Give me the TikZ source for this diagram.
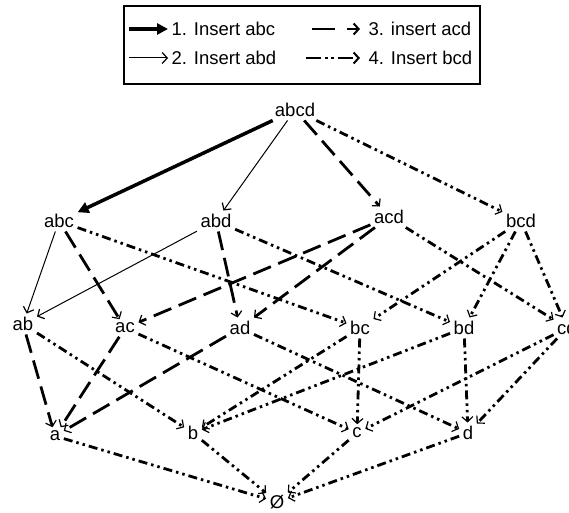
\documentclass[tikz,border=0pt]{standalone}
\usepackage{fontspec}
\setmainfont{Liberation Sans}
\usetikzlibrary{arrows.meta}
\begin{document}
\begin{tikzpicture}[x=1pt,y=1pt,
  lbl/.style={font=\fontsize{18.5}{20}\selectfont, inner sep=3.5pt},
  tone/.style={line width=3.5pt, -{Triangle[length=11pt,width=11pt]}},
  ttwo/.style={line width=1pt, -{Straight Barb[length=5pt,width=11pt,line width=1.2pt]}},
  tthree/.style={line width=2.8pt, dash pattern=on 19pt off 8pt, -{Straight Barb[length=5pt,width=11pt,line width=1.2pt]}},
  tfour/.style={line width=2.8pt, dash pattern=on 9pt off 4pt on 2.5pt off 4pt on 2.5pt off 4pt, -{Straight Barb[length=5pt,width=11pt,line width=1.2pt]}},
  legtip/.style={-{Straight Barb[length=5pt,width=11pt,line width=2pt]}}]
\useasboundingbox (0,0) rectangle (569,512);
% legend
\node[draw, line width=1.5pt, minimum width=356pt, minimum height=78pt, inner sep=0pt] (legend) at (302,467) {};
\node[lbl, anchor=west] (k1) at (168,483) {1. Insert abc};
\node[lbl, anchor=west] (k2) at (168,454) {2. Insert abd};
\node[lbl, anchor=west] (k3) at (365,483) {3. insert acd};
\node[lbl, anchor=west] (k4) at (365,454) {4. Insert bcd};
\coordinate (s1) at (129,483);
\coordinate (s2) at (129,454);
\coordinate (s3) at (312,483);
\coordinate (s4) at (306,454);
\draw[tone] (s1) -- (k1.west);
\draw[ttwo] (s2) -- (k2.west);
\draw[tthree, legtip, dash pattern=on 23pt off 12pt] (s3) -- ([xshift=-5pt]k3.west);
\draw[tfour, legtip, dash pattern=on 15pt off 4pt on 2.5pt off 3.5pt on 2.5pt off 4pt] (s4) -- ([xshift=-5pt]k4.west);
% nodes
\node[lbl] (abcd) at (295,402) {abcd};
\node[lbl] (abc) at (59,291) {abc};
\node[lbl] (abd) at (216,291) {abd};
\node[lbl] (acd) at (389,295) {acd};
\node[lbl] (bcd) at (521,291) {bcd};
\node[lbl] (ab) at (23,188) {ab};
\node[lbl] (ac) at (125,184) {ac};
\node[lbl] (ad) at (240,184) {ad};
\node[lbl] (bc) at (360,184) {bc};
\node[lbl] (bd) at (464,184) {bd};
\node[lbl] (cd) at (567,184) {cd};
\node[lbl] (a) at (55,76) {a};
\node[lbl] (b) at (193,79) {b};
\node[lbl] (c) at (357,79) {c};
\node[lbl] (d) at (468,79) {d};
\node[lbl] (e) at (277,10) {Ø};
% type 1
\draw[tone] (abcd) -- (abc);
% type 2
\draw[ttwo] (abcd) -- (abd);
\draw[ttwo] (abc) -- (ab);
\draw[ttwo] (abd) -- (ab);
% type 3
\draw[tthree] (abcd) -- (acd);
\draw[tthree] (abc) -- (ac);
\draw[tthree] (abd) -- (ad);
\draw[tthree] (acd) -- (ac);
\draw[tthree] (acd) -- (ad);
\draw[tthree] (ab) -- (a);
\draw[tthree] (ac) -- (a);
\draw[tthree] (ad) -- (a);
% type 4
\draw[tfour] (abcd) -- (bcd);
\draw[tfour] (abc) -- (bc);
\draw[tfour] (abd) -- (bd);
\draw[tfour] (acd) -- (cd);
\draw[tfour] (bcd) -- (bc);
\draw[tfour] (bcd) -- (bd);
\draw[tfour] (bcd) -- (cd);
\draw[tfour] (ab) -- (b);
\draw[tfour] (ac) -- (c);
\draw[tfour] (ad) -- (d);
\draw[tfour] (bc) -- (b);
\draw[tfour] (bc) -- (c);
\draw[tfour] (bd) -- (b);
\draw[tfour] (bd) -- (d);
\draw[tfour] (cd) -- (c);
\draw[tfour] (cd) -- (d);
\draw[tfour] (a) -- (e);
\draw[tfour] (b) -- (e);
\draw[tfour] (c) -- (e);
\draw[tfour] (d) -- (e);
\end{tikzpicture}
\end{document}
